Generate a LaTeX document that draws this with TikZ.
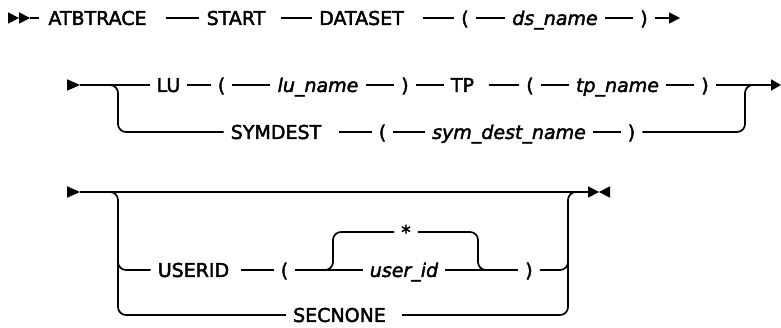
\documentclass[tikz,border=0pt]{standalone}
\usepackage{fontspec}
\setmainfont{DejaVu Sans}
\newfontfamily\rrfont{DejaVu Sans}[FakeBold=2.2]
\begin{document}
\begin{tikzpicture}[x=1pt,y=-1pt,
  ln/.style={line width=1.7pt},
  rc/.style={ln, rounded corners=8pt},
  t/.style={inner xsep=7pt, inner ysep=0pt, text height=13.9pt, text depth=0pt, font=\rrfont\fontsize{19}{19}\selectfont},
  v/.style={t, font=\rrfont\fontsize{19}{19}\selectfont\itshape}]
\useasboundingbox (0,0) rectangle (781,328);
% ---------- row 1
\node[t] (atb) at (97.5,18) {ATBTRACE};
\node[t] (start) at (236,18) {START};
\node[t] (ds) at (361.5,18) {DATASET};
\node[t] (lp1) at (465,18) {(};
\node[v] (dsn) at (555,18) {ds\_name};
\node[t] (rp1) at (644,18) {)};
\coordinate (s1) at (30,18);
\coordinate (e1) at (680,18);
\fill (8,12.25) -- (19,18) -- (8,23.75) -- cycle;
\fill (19,12.25) -- (30,18) -- (19,23.75) -- cycle;
\draw[ln] (s1) -- ([xshift=-2pt]atb.west);
\draw[ln] ([xshift=12pt]atb.east) -- (start.west);
\draw[ln] ([xshift=8pt]start.east) -- (ds.west);
\draw[ln] ([xshift=12pt]ds.east) -- (lp1.west);
\draw[ln] (lp1.east) -- (dsn.west);
\draw[ln] (dsn.east) -- (rp1.west);
\draw[ln] (rp1.east) -- ([xshift=-4pt]e1);
\fill (e1) -- ++(-11,-5.75) -- ++(0,11.5) -- cycle;
% ---------- row 2
\fill (67,79.25) -- (80,85) -- (67,90.75) -- cycle;
\coordinate (s2) at (80,85);
\coordinate (e2) at (781,85);
\node[t] (lu) at (168.5,85) {LU};
\node[t] (lp2) at (221.5,85) {(};
\node[v] (lun) at (318,85) {lu\_name};
\node[t] (rp2) at (405,85) {)};
\node[t] (tp) at (462.5,85) {TP};
\node[t] (lp2b) at (530,85) {(};
\node[v] (tpn) at (617.5,85) {tp\_name};
\node[t] (rp2b) at (705,85) {)};
\node[t] (sym) at (276,132) {SYMDEST};
\node[t] (lp2c) at (382.5,132) {(};
\node[v] (sdn) at (509,132) {sym\_dest\_name};
\node[t] (rp2c) at (631.5,132) {)};
\draw[ln] (s2) -- (lu.west);
\draw[ln] (lu.east) -- (lp2.west);
\draw[ln] (lp2.east) -- (lun.west);
\draw[ln] (lun.east) -- (rp2.west);
\draw[ln] (rp2.east) -- (tp.west);
\draw[ln] ([xshift=8pt]tp.east) -- (lp2b.west);
\draw[ln] (lp2b.east) -- (tpn.west);
\draw[ln] (tpn.east) -- (rp2b.west);
\draw[ln] (rp2b.east) -- ([xshift=-4pt]e2);
\fill (e2) -- ++(-10,-5.75) -- ++(0,11.5) -- cycle;
\draw[rc] (100,85) -- (118,85) -- (118,132) -- (sym.west);
\draw[ln] ([xshift=11pt]sym.east) -- (lp2c.west);
\draw[ln] (lp2c.east) -- (sdn.west);
\draw[ln] (sdn.east) -- (rp2c.west);
\draw[rc] (rp2c.east) -- (745,132) -- (745,85) -- (760,85);
% ---------- row 3
\fill (67,186.25) -- (80,192) -- (67,197.75) -- cycle;
\coordinate (s3) at (80,192);
\coordinate (e3) at (588,192);
\draw[ln] (s3) -- (e3);
\fill (588,186.25) -- (599,192) -- (588,197.75) -- cycle;
\fill (610,186.25) -- (599,192) -- (610,197.75) -- cycle;
\node[t] (uid) at (193.5,270) {USERID};
\node[t] (lp3) at (284.5,270) {(};
\node[t] (star) at (406,232) {*};
\node[v] (user) at (404,270) {user\_id};
\node[t] (rp3) at (529,270) {)};
\node[t] (sec) at (339.5,315) {SECNONE};
\draw[rc] (100,192) -- (118,192) -- (118,315) -- (sec.west);
\draw[rc] (118,250) -- (118,270) -- (uid.west);
\draw[ln] ([xshift=5pt]uid.east) -- (lp3.west);
\draw[ln] (lp3.east) -- (user.west);
\draw[rc] (318,270) -- (333,270) -- (333,232) -- (star.west);
\draw[rc] (star.east) -- (478,232) -- (478,270) -- (495,270);
\draw[ln] (user.east) -- (rp3.west);
\draw[rc] (rp3.east) -- (568,270) -- (568,250);
\draw[rc] ([xshift=9pt]sec.east) -- (568,315) -- (568,192) -- (585,192);
\end{tikzpicture}
\end{document}
